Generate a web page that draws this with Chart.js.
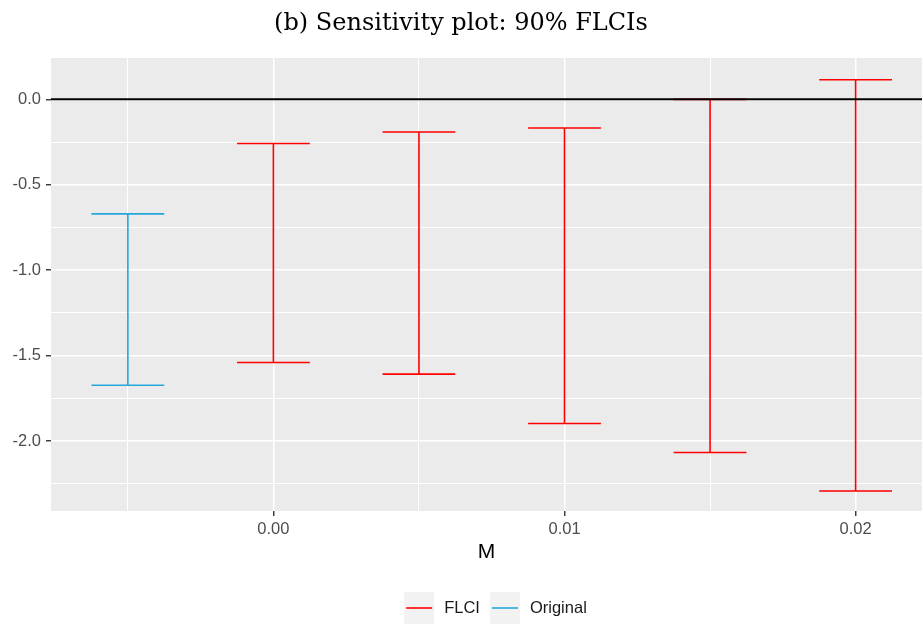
<!DOCTYPE html>
<html>
<head>
<meta charset="utf-8">
<script src="https://cdn.jsdelivr.net/npm/chart.js@4.4.1/dist/chart.umd.min.js"></script>
<style>
  html, body { margin: 0; padding: 0; background: #ffffff; }
  #wrap { width: 923px; height: 625px; }
</style>
</head>
<body>
<div id="wrap"><canvas id="c" width="923" height="625"></canvas></div>
<script>
// ---- Data ----
const seriesNames = ['FLCI', 'Original'];
const methodOfBar = ['Original', 'FLCI', 'FLCI', 'FLCI', 'FLCI', 'FLCI'];
const mValues     = [-0.005, 0.000, 0.005, 0.010, 0.015, 0.020];
const lowerBounds = [-1.673, -1.540, -1.608, -1.897, -2.067, -2.292];
const upperBounds = [-0.670, -0.258, -0.191, -0.168, 0.000, 0.115];

const xTickValues = [-0.005, 0.000, 0.005, 0.010, 0.015, 0.020];
const xTickLabels = ['', '0.00', '', '0.01', '', '0.02'];
const yTickValues = [-2.25, -2.0, -1.75, -1.5, -1.25, -1.0, -0.75, -0.5, -0.25, 0.0];
const yTickLabels = ['', '-2.0', '', '-1.5', '', '-1.0', '', '-0.5', '', '0.0'];
const referenceLineY = 0;

// ---- Styles ----
const seriesColors = { 'FLCI': '#FF0000', 'Original': '#26A7DB' };
const capHalfWidth = 0.00125;
const X_MIN = -0.00764, X_MAX = 0.02228;
const Y_MIN = -2.409, Y_MAX = 0.242;
const panelBg = '#EBEBEB';

function buildSegments(name) {
  const pts = [];
  mValues.forEach((m, i) => {
    if (methodOfBar[i] !== name) return;
    const lo = lowerBounds[i], hi = upperBounds[i];
    pts.push({x: m, y: lo}, {x: m, y: hi}, {x: m, y: null});
    pts.push({x: m - capHalfWidth, y: hi}, {x: m + capHalfWidth, y: hi}, {x: m, y: null});
    pts.push({x: m - capHalfWidth, y: lo}, {x: m + capHalfWidth, y: lo}, {x: m, y: null});
  });
  return pts;
}

const datasets = seriesNames.map(name => ({
  label: name,
  data: buildSegments(name),
  borderColor: seriesColors[name],
  backgroundColor: seriesColors[name],
  borderWidth: 1.6,
  pointRadius: 0,
  pointHoverRadius: 0,
  tension: 0,
  spanGaps: false,
  fill: false,
  order: 1
}));

// reference line drawn on top of the error bars (plugin using the chart's own scales)
const hlinePlugin = {
  id: 'hline',
  afterDatasetsDraw(chart) {
    const {ctx, chartArea: a, scales} = chart;
    const y = scales.y.getPixelForValue(referenceLineY);
    ctx.save();
    ctx.strokeStyle = '#000000';
    ctx.lineWidth = 2;
    ctx.beginPath();
    ctx.moveTo(a.left, y);
    ctx.lineTo(a.right, y);
    ctx.stroke();
    ctx.restore();
  }
};

const isMajorX = v => Math.abs(Math.round(v / 0.01) * 0.01 - v) < 1e-9;
const isMajorY = v => Math.abs(Math.round(v / 0.5) * 0.5 - v) < 1e-9;

const bgPlugin = {
  id: 'bgPlugin',
  beforeDraw(chart) {
    const {ctx, chartArea: a} = chart;
    ctx.save();
    ctx.fillStyle = '#ffffff';
    ctx.fillRect(0, 0, chart.width, chart.height);
    ctx.fillStyle = panelBg;
    ctx.fillRect(a.left, a.top, a.right - a.left, a.bottom - a.top);
    ctx.restore();
  }
};

const legendPlugin = {
  id: 'ggLegend',
  afterDraw(chart) {
    const ctx = chart.ctx;
    const a = chart.chartArea;
    const items = chart.data.datasets;
    ctx.save();
    ctx.font = '16.5px "Liberation Sans", Arial, sans-serif';
    const keyW = 30, keyH = 32, gapText = 10, gapItem = 10;
    const widths = items.map(d => ctx.measureText(d.label).width);
    let total = 0;
    items.forEach((d, i) => { total += keyW + gapText + widths[i] + (i < items.length - 1 ? gapItem : 0); });
    const cx = (a.left + a.right) / 2 + 9;
    let x = cx - total / 2;
    const top = a.bottom + 81;
    const cy = top + keyH / 2;
    items.forEach((d, i) => {
      ctx.fillStyle = '#F2F2F2';
      ctx.fillRect(x, top, keyW, keyH);
      ctx.strokeStyle = d.borderColor;
      ctx.lineWidth = 1.6;
      ctx.beginPath();
      ctx.moveTo(x + 2, cy);
      ctx.lineTo(x + keyW - 2, cy);
      ctx.stroke();
      ctx.fillStyle = '#1A1A1A';
      ctx.textBaseline = 'middle';
      ctx.textAlign = 'left';
      ctx.fillText(d.label, x + keyW + gapText, cy);
      x += keyW + gapText + widths[i] + gapItem;
    });
    ctx.restore();
  }
};

new Chart(document.getElementById('c'), {
  type: 'line',
  data: { datasets },
  plugins: [bgPlugin, hlinePlugin, legendPlugin],
  options: {
    responsive: false,
    devicePixelRatio: 1,
    animation: false,
    events: [],
    layout: { padding: { left: 0, right: 1, top: 0, bottom: 57 } },
    plugins: {
      legend: { display: false },
      tooltip: { enabled: false },
      title: {
        display: true,
        text: '(b) Sensitivity plot: 90% FLCIs',
        color: '#000000',
        font: { family: '"DejaVu Serif", serif', size: 24, weight: 'normal', lineHeight: 1.2 },
        padding: { top: 9, bottom: 20.2 }
      }
    },
    scales: {
      x: {
        type: 'linear',
        min: X_MIN, max: X_MAX,
        afterFit(scale) { scale.height = 57; },
        afterBuildTicks(scale) { scale.ticks = xTickValues.map(v => ({ value: v })); },
        border: { display: false },
        grid: {
          color: '#FFFFFF',
          lineWidth: ctx => (ctx.tick && isMajorX(ctx.tick.value)) ? 1.5 : 1.0,
          drawTicks: true,
          tickLength: 5,
          tickColor: ctx => (ctx.tick && isMajorX(ctx.tick.value)) ? '#333333' : 'rgba(0,0,0,0)',
          tickWidth: 1.4
        },
        ticks: {
          autoSkip: false,
          maxRotation: 0,
          padding: 3.5,
          color: '#4D4D4D',
          font: { family: '"Liberation Sans", Arial, sans-serif', size: 16.5 },
          callback: (value, index) => xTickLabels[index]
        },
        title: {
          display: true,
          text: 'M',
          color: '#000000',
          font: { family: '"Liberation Sans", Arial, sans-serif', size: 21, lineHeight: 1.2 },
          padding: { top: 0, bottom: 3.5 }
        }
      },
      y: {
        type: 'linear',
        min: Y_MIN, max: Y_MAX,
        afterFit(scale) { scale.width = 51; },
        afterBuildTicks(scale) { scale.ticks = yTickValues.map(v => ({ value: v })); },
        border: { display: false },
        grid: {
          color: '#FFFFFF',
          lineWidth: ctx => (ctx.tick && isMajorY(ctx.tick.value)) ? 1.5 : 1.0,
          drawTicks: true,
          tickLength: 5,
          tickColor: ctx => (ctx.tick && isMajorY(ctx.tick.value)) ? '#333333' : 'rgba(0,0,0,0)',
          tickWidth: 1.4
        },
        ticks: {
          padding: 5,
          color: '#4D4D4D',
          font: { family: '"Liberation Sans", Arial, sans-serif', size: 16.5 },
          callback: (value, index) => yTickLabels[index]
        }
      }
    }
  }
});
</script>
</body>
</html>
